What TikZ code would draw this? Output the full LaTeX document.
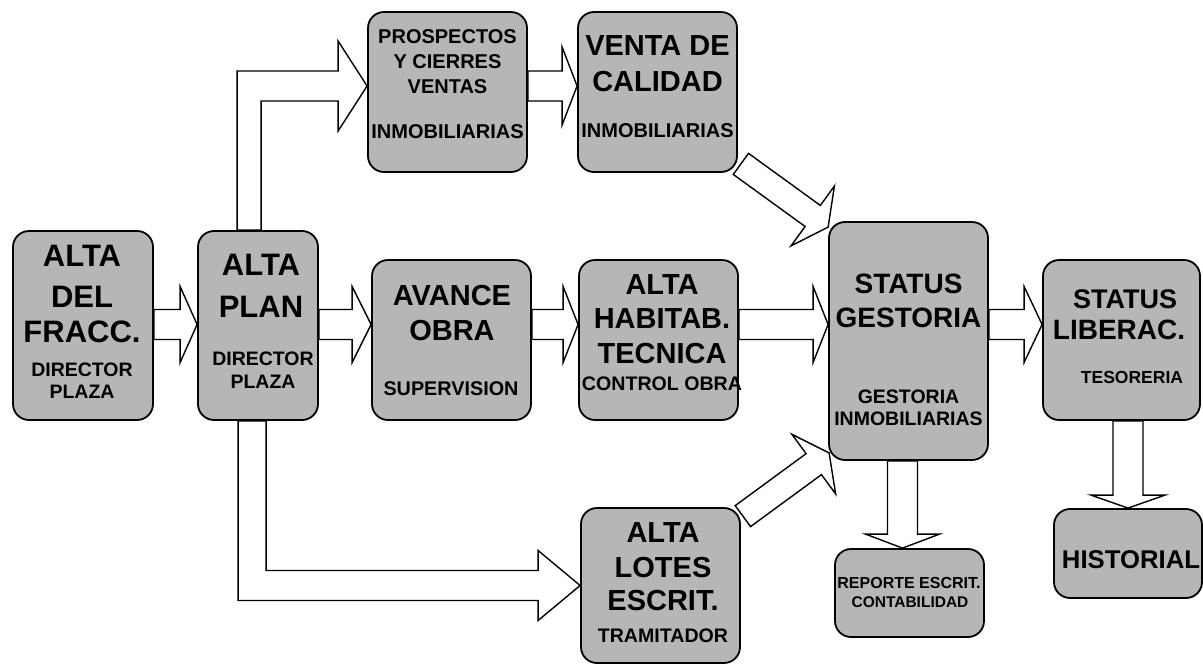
\documentclass[tikz,border=0pt]{standalone}
\usepackage{fontspec}
\setmainfont{Liberation Sans}
\usetikzlibrary{calc}
\definecolor{boxgray}{RGB}{182,182,182}

% straight block arrow: start, tip, shaft half width, head half width, head length
\newcommand{\barrow}[5]{%
  \coordinate (ba-s) at (#1);
  \coordinate (ba-t) at (#2);
  \coordinate (ba-h) at ($(ba-t)!#5!(ba-s)$);
  \draw[blockarrow]
    ($(ba-s)!#3!90:(ba-t)$) -- ($(ba-h)!#3!90:(ba-t)$) -- ($(ba-h)!#4!90:(ba-t)$)
    -- (ba-t)
    -- ($(ba-h)!#4!-90:(ba-t)$) -- ($(ba-h)!#3!-90:(ba-t)$) -- ($(ba-s)!#3!-90:(ba-t)$) -- cycle;}

\begin{document}
\begin{tikzpicture}[x=1pt,y=-1pt,
  box/.style={draw=black, line width=1.8pt, rounded corners=16pt, fill=boxgray, inner sep=0pt},
  blockarrow/.style={draw=black, line width=1.4pt, fill=white, line join=miter},
  lbl/.style={anchor=base, inner sep=0pt, text=black, font=\bfseries\fontsize{#1}{#1}\selectfont}]

\useasboundingbox (0,0) rectangle (1203,665);

% process boxes
\node[box, minimum width=140pt, minimum height=189pt] (fracc)  at (83,325.5)   {};
\node[box, minimum width=120pt, minimum height=189pt] (plan)   at (258,325.5)  {};
\node[box, minimum width=159pt, minimum height=160pt] (prosp)  at (447.5,92)   {};
\node[box, minimum width=159pt, minimum height=160pt] (venta)  at (657.5,92)   {};
\node[box, minimum width=159pt, minimum height=160pt] (avance) at (451.5,340)  {};
\node[box, minimum width=159pt, minimum height=160pt] (habit)  at (658.5,340)  {};
\node[box, minimum width=159pt, minimum height=238pt] (gest)   at (908.5,341)  {};
\node[box, minimum width=157pt, minimum height=160pt] (liber)  at (1121.5,340) {};
\node[box, minimum width=159pt, minimum height=155pt] (lotes)  at (660.5,585.5){};
\node[box, minimum width=149pt, minimum height=88pt]  (rep)    at (909.5,593)  {};
\node[box, minimum width=148pt, minimum height=89pt]  (hist)   at (1128,553.5) {};

\coordinate (midrow) at (0,324.5);
\coordinate (toprow) at (0,86);

% straight block arrows
\barrow{fracc.east |- midrow}{plan.west |- midrow}{15pt}{38pt}{17pt}
\barrow{plan.east |- midrow}{avance.west |- midrow}{15pt}{38pt}{19pt}
\barrow{avance.east |- midrow}{habit.west |- midrow}{15pt}{38pt}{15pt}
\barrow{habit.east |- midrow}{gest.west |- midrow}{15pt}{38pt}{15pt}
\barrow{gest.east |- midrow}{liber.west |- midrow}{15pt}{38pt}{18pt}
\barrow{prosp.east |- toprow}{venta.west |- toprow}{15pt}{39pt}{15pt}
\barrow{$(venta.south east)+(3,-9)$}{$(gest.north west)+(0,6)$}{13pt}{37pt}{19pt}
\barrow{$(lotes.north east)+(2,9)$}{$(gest.south west)+(1,-8)$}{13pt}{37pt}{19pt}
\coordinate (gdown) at ($(gest.south)+(-6,0)$);
\barrow{gdown}{gdown |- rep.north}{15pt}{37pt}{14pt}
\barrow{hist.north |- liber.south}{hist.north}{15pt}{37pt}{13pt}

% bent arrow up to the sales prospects
\coordinate (uL) at ($(plan.north west)+(40,0)$);
\coordinate (uR) at ($(plan.north west)+(64,0)$);
\coordinate (uT) at (prosp.west |- toprow);
\draw[blockarrow] (uL) -- ($(uL |- uT)+(0,-15)$) -- ($(uT)+(-29,-15)$) -- ($(uT)+(-29,-45)$)
  -- (uT) -- ($(uT)+(-29,45)$) -- ($(uT)+(-29,15)$) -- ($(uR |- uT)+(0,15)$) -- (uR) -- cycle;

% bent arrow down to the lots
\coordinate (dL) at ($(plan.south west)+(41,0)$);
\coordinate (dR) at ($(plan.south west)+(69,0)$);
\coordinate (dT) at (lotes.west);
\draw[blockarrow] (dL) -- ($(dL |- dT)+(0,15)$) -- ($(dT)+(-42,15)$) -- ($(dT)+(-42,35)$)
  -- (dT) -- ($(dT)+(-42,-35)$) -- ($(dT)+(-42,-15)$) -- ($(dR |- dT)+(0,-15)$) -- (dR) -- cycle;

% labels
\node[lbl=31]   (fracc-a) at (82,266) {ALTA};
\node[lbl=31]   (fracc-b) at (82,307) {DEL};
\node[lbl=31]   (fracc-c) at (82,342) {FRACC.};
\node[lbl=19.5] (fracc-d) at (82,376) {DIRECTOR};
\node[lbl=19.5] (fracc-e) at (82,398) {PLAZA};

\node[lbl=31]   (plan-a) at (261,275) {ALTA};
\node[lbl=31]   (plan-b) at (261,317) {PLAN};
\node[lbl=19.5] (plan-c) at (263,365) {DIRECTOR};
\node[lbl=19.5] (plan-d) at (263,388) {PLAZA};

\node[lbl=20] (prosp-a) at (447.5,43)  {PROSPECTOS};
\node[lbl=20] (prosp-b) at (447.5,68)  {Y CIERRES};
\node[lbl=20] (prosp-c) at (447.5,93)  {VENTAS};
\node[lbl=20] (prosp-d) at (447.5,138) {INMOBILIARIAS};

\node[lbl=29] (venta-a) at (657.5,55)  {VENTA DE};
\node[lbl=29] (venta-b) at (657.5,91)  {CALIDAD};
\node[lbl=20] (venta-c) at (657.5,137) {INMOBILIARIAS};

\node[lbl=29]   (avance-a) at (452,305) {AVANCE};
\node[lbl=29]   (avance-b) at (452,340) {OBRA};
\node[lbl=19.8] (avance-c) at (451,395) {SUPERVISION};

\node[lbl=29]   (habit-a) at (662,294) {ALTA};
\node[lbl=29]   (habit-b) at (662,328) {HABITAB.};
\node[lbl=29]   (habit-c) at (662,363) {TECNICA};
\node[lbl=19.6] (habit-d) at (662,390) {CONTROL OBRA};

\node[lbl=28]   (gest-a) at (908.5,293) {STATUS};
\node[lbl=28]   (gest-b) at (908.5,327) {GESTORIA};
\node[lbl=19.5] (gest-c) at (908.5,403) {GESTORIA};
\node[lbl=19.5] (gest-d) at (908.5,425) {INMOBILIARIAS};

\node[lbl=27]   (liber-a) at (1125,308) {STATUS};
\node[lbl=28]   (liber-b) at (1119,339) {LIBERAC.};
\node[lbl=17.5] (liber-c) at (1132,383) {TESORERIA};

\node[lbl=29]   (lotes-a) at (663,542) {ALTA};
\node[lbl=29]   (lotes-b) at (663,577) {LOTES};
\node[lbl=29]   (lotes-c) at (663,610) {ESCRIT.};
\node[lbl=19.6] (lotes-d) at (663,642) {TRAMITADOR};

\node[lbl=16]   (rep-a) at (909,588) {REPORTE ESCRIT.};
\node[lbl=15.5] (rep-b) at (910,607) {CONTABILIDAD};

\node[lbl=25.7] (hist-a) at (1131,568) {HISTORIAL};
\end{tikzpicture}
\end{document}
